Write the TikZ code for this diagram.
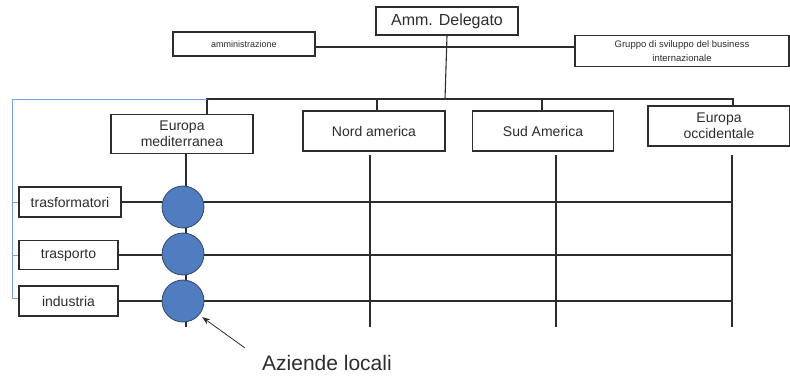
\documentclass[tikz,border=0pt]{standalone}
\usepackage{fontspec}
\setmainfont{Liberation Sans}
\usetikzlibrary{positioning,arrows.meta}

\definecolor{unitfill}{RGB}{79,125,192}
\definecolor{unitdraw}{RGB}{50,70,100}
\definecolor{linkblue}{RGB}{122,160,224}
\definecolor{ink}{RGB}{45,45,45}

\tikzset{
  office/.style={draw=ink,line width=1.3pt,fill=white,inner sep=1pt,
    align=center,text=ink},
  unit/.style={circle,draw=unitdraw,line width=0.8pt,fill=unitfill,
    minimum size=42pt,inner sep=0pt},
  grid/.style={draw=ink,line width=1.1pt},
  link/.style={draw=linkblue,line width=1pt}
}

\begin{document}
\begin{tikzpicture}[x=1pt,y=-1pt]
  \useasboundingbox (0,0) rectangle (790,376);
  % top level
  \node[office,minimum width=142pt,minimum height=28pt,font=\fontsize{16}{18}\selectfont]
    (delegato) at (447,21) {Amm. Delegato};
  \node[office,minimum width=142pt,minimum height=24pt,font=\fontsize{9}{11}\selectfont]
    (amm) at (244,44) {amministrazione};
  \node[office,minimum width=214pt,minimum height=31pt,font=\fontsize{9.5}{13.5}\selectfont]
    (gruppo) at (682,51) {Gruppo di sviluppo del business\\internazionale};
  % regions
  \node[office,minimum width=142pt,minimum height=39pt,font=\fontsize{14}{16}\selectfont]
    (med) at (182,134) {Europa\\mediterranea};
  \node[office,minimum width=142pt,minimum height=40pt,font=\fontsize{14}{16}\selectfont]
    (nord) at (374,131) {Nord america};
  \node[office,minimum width=141pt,minimum height=40pt,font=\fontsize{14}{16}\selectfont]
    (sud) at (543,131) {Sud America};
  \node[office,minimum width=142pt,minimum height=40pt,font=\fontsize{14}{16}\selectfont]
    (occ) at (719,126) {Europa\\occidentale};
  % sectors
  \node[office,minimum width=102pt,minimum height=30pt,font=\fontsize{14}{16}\selectfont]
    (trasf) at (70,202) {trasformatori};
  \node[office,minimum width=99pt,minimum height=29pt,font=\fontsize{14}{16}\selectfont]
    (trasp) at (68.5,255) {trasporto};
  \node[office,minimum width=99pt,minimum height=30pt,font=\fontsize{14}{16}\selectfont]
    (ind) at (68.5,301) {industria};
  \node[text=ink,font=\fontsize{21}{23}\selectfont] (aziende) at (327,363) {Aziende locali};

  \coordinate (bus) at (445,99);
  \coordinate (staff) at (445,47);
  \coordinate (edge) at (12,99);
  \coordinate (floor) at (0,327);

  % hierarchy
  \draw[grid] (delegato.south) -- (bus);
  \draw[grid] (amm.east |- staff) -- (gruppo.west |- staff);
  \draw[grid] ([xshift=25pt]med.north) |- (bus) -| ([xshift=14pt]occ.north);
  \draw[grid] ([xshift=3pt]nord.north) -- ([xshift=3pt]nord.north |- bus);
  \draw[grid] ([xshift=-1pt]sud.north) -- ([xshift=-1pt]sud.north |- bus);
  \draw[link] ([xshift=25pt]med.north |- bus) -- (edge) |- ([yshift=3pt]ind.west);
  \draw[link] (edge |- trasf.west) -- (trasf.west);
  \draw[link] (edge |- trasp.west) -- (trasp.west);

  % matrix
  \draw[grid] ([xshift=4pt]med.south) -- ([xshift=4pt]med.south |- floor);
  \draw[grid] ([xshift=-4pt,yshift=-3pt]nord.south) -- ([xshift=-4pt]nord.south |- floor);
  \draw[grid] ([xshift=13pt,yshift=-3pt]sud.south) -- ([xshift=13pt]sud.south |- floor);
  \draw[grid] ([xshift=13pt,yshift=-8pt]occ.south) -- ([xshift=13pt]occ.south |- floor);
  \foreach \s in {trasf,trasp,ind}
    \draw[grid] (\s.east) -- (\s.east -| occ.south) -- ++(13,0);

  % local firms
  \node[unit] (c1) at (183,207) {};
  \node[unit] (c2) at (183,254) {};
  \node[unit] (c3) at (183,301) {};
  \draw[draw=ink,line width=0.8pt,-{Stealth[length=8pt,width=6pt]}]
    ([shift={(-14pt,4pt)}]aziende.north west) -- ([shift={(4pt,-1pt)}]c3.south east);
\end{tikzpicture}
\end{document}
